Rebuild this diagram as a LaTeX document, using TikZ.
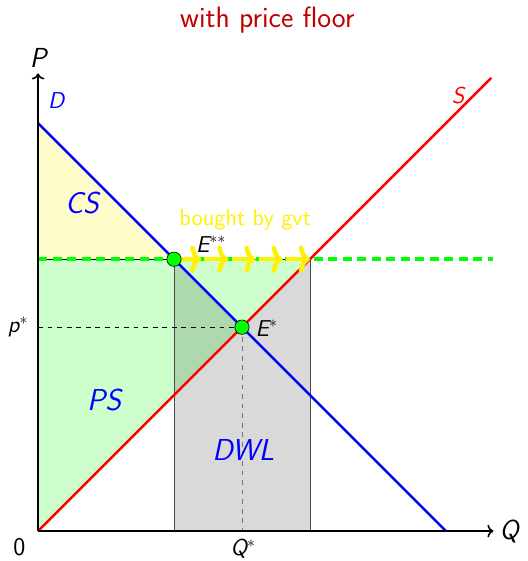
\documentclass[tikz,border=0pt]{standalone}
\usetikzlibrary{calc,arrows.meta}
\begin{document}
\begin{tikzpicture}[font=\sffamily,
  curve/.style={line width=1.6pt},
  dot/.style={circle,draw=black,fill=green,inner sep=0pt,minimum size=9pt},
  lbl/.style={font=\sffamily\itshape\Large,inner sep=1pt},
  big/.style={font=\sffamily\itshape\fontsize{19}{23}\selectfont,blue}]
  \useasboundingbox (-0.84,-0.66) rectangle (10.79,11.72);
  \coordinate (O) at (0,0); \coordinate (Dtop) at (0,9); \coordinate (Dend) at (9,0);
  \coordinate (Send) at (10,10); \coordinate (Ess) at (3,6); \coordinate (Sf) at (6,6);
  \coordinate (Pf) at (0,6); \coordinate (Pfend) at (10.05,6);
  \coordinate (Estar) at (4.5,4.5); \coordinate (pst) at (0,4.5); \coordinate (qst) at (4.5,0);
  % surplus areas
  \fill[yellow!20] (Dtop)--(Ess)--(Pf)--cycle;
  \fill[green!20] (Pf)--(Sf)--(O)--cycle;
  \fill[black,fill opacity=0.15] (3,0) rectangle (Sf);
  \draw[gray!60!black] (3,0) rectangle (Sf);
  \fill[green!20] (Ess)--(Sf)--(Estar)--cycle;
  \draw (Pf)--(Sf);
  \draw[dashed] (pst)--(Estar); \draw[dashed,gray!90!black] (Estar)--(qst);
  % demand, supply
  \draw[curve,blue] (Dtop)--(Dend);
  \draw[curve,red] (O)--(Send);
  % bought by gvt
  \draw[green,line width=2.5pt,dash pattern=on 0.2cm off 0.12cm] (Pf)--(Pfend);
  \foreach \i in {0,...,4}
    \draw[-{To[length=7pt,width=17pt]},yellow,line width=2.8pt,shorten <=2pt]
      ($(Ess)!\i/5!(Sf)$)--($(Ess)!\i/5+0.2!(Sf)$);
  % axes
  \draw[->,line width=1pt] (O)--(10.05,0) node[right,font=\sffamily\itshape\LARGE]{Q};
  \draw[->,line width=1pt] (O)--(0,10.1) node[above,font=\sffamily\itshape\LARGE]{P};
  \node[dot] (ess) at (Ess) {}; \node[dot] (es) at (Estar) {};
  % labels
  \node[red!75!black,font=\sffamily\fontsize{18.5}{22}\selectfont] (title) at (5.06,11.28) {with price floor};
  \node[font=\sffamily\fontsize{16}{19}\selectfont,inner sep=0pt] (zero) at (-0.41,-0.36) {0};
  \node[lbl] (plab) at (-0.44,4.5) {p$^*$};
  \node[lbl] (qlab) at (4.53,-0.4) {Q$^*$};
  \node[lbl,anchor=west] (eslab) at (4.76,4.48) {E$^*$};
  \node[lbl] (esslab) at (3.82,6.33) {E$^{**}$};
  \node[lbl,blue] (dlab) at (0.4,9.51) {D};
  \node[lbl,red] (slab) at (9.27,9.62) {S};
  \node[big] (cs) at (0.97,7.24) {CS};
  \node[big] (ps) at (1.46,2.89) {PS};
  \node[big] (dwl) at (4.53,1.79) {DWL};
  \node[yellow,font=\sffamily\Large,inner sep=1pt] (gvt) at (4.57,6.86) {bought by gvt};
\end{tikzpicture}
\end{document}
